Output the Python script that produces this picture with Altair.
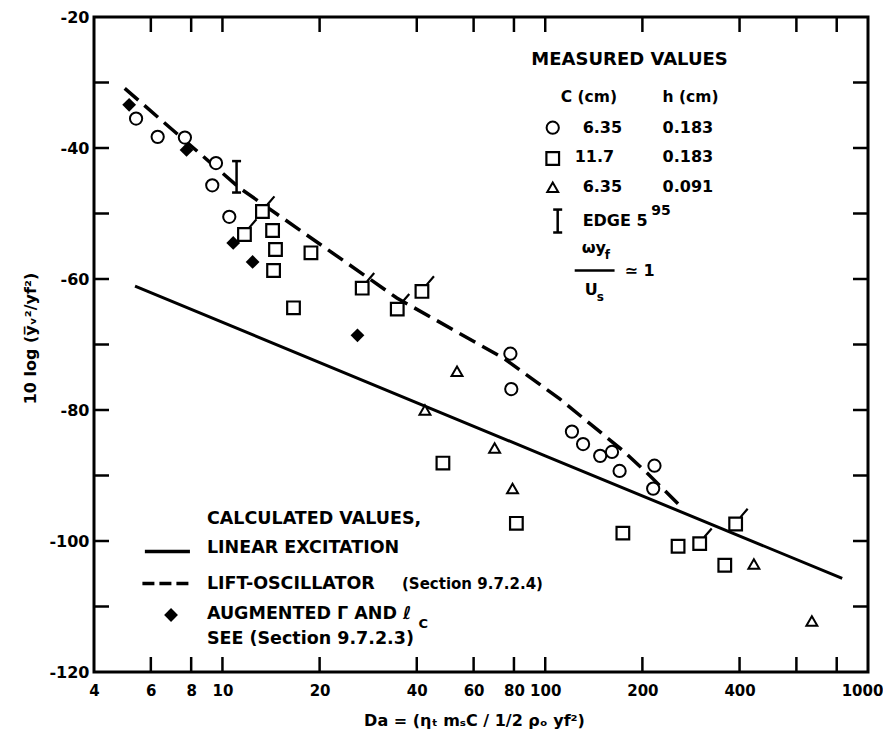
import altair as alt
import pandas as pd

# ---------------- data ----------------
circle_x = [5.4, 6.3, 7.65, 9.55, 9.3, 10.5, 78, 78.5, 121, 131, 148, 161, 170, 218, 216]
circle_y = [-35.5, -38.3, -38.4, -42.3, -45.7, -50.5, -71.4, -76.8, -83.3, -85.2, -87.0, -86.4, -89.3, -88.5, -92.0]

square_x = [14.3, 14.6, 14.4, 18.8, 16.6, 48.2, 81.4, 174, 258, 360]
square_y = [-52.6, -55.5, -58.7, -56.0, -64.4, -88.1, -97.3, -98.8, -100.8, -103.7]

flag_square_x = [13.3, 11.7, 27.1, 34.8, 41.5, 301, 389]
flag_square_y = [-49.7, -53.2, -61.4, -64.6, -61.9, -100.4, -97.4]

triangle_x = [53.3, 42.4, 69.7, 79.2, 443, 670]
triangle_y = [-74.1, -80.0, -85.8, -92.0, -103.5, -112.2]

diamond_x = [5.14, 7.74, 10.8, 12.4, 26.2]
diamond_y = [-33.4, -40.3, -54.5, -57.4, -68.6]

linear_x = [5.36, 100, 832]
linear_y = [-61.1, -87.0, -105.7]

lift_x = [4.98, 11.3, 34.7, 74.9, 110.9, 174, 207.6, 264]
lift_y = [-30.9, -46.1, -62.9, -72.2, -78.3, -86.2, -89.7, -94.8]

edge_x = [11.06]
edge_lo = [-46.8]
edge_hi = [-42.0]

x_label_values = [4, 6, 8, 10, 20, 40, 60, 80, 100, 200, 400, 1000]
x_tick_values = [6, 8, 10, 20, 40, 60, 80, 100, 200, 400, 600, 800]
y_label_values = [-120, -100, -80, -60, -40, -20]
y_tick_values = [-110, -100, -90, -80, -70, -60, -50, -40, -30]

# legend / annotation content (positions in data units)
header_text = ["MEASURED VALUES"]
header_x = [182.5]
header_y = [-26.5]

col_text = ["C (cm)", "h (cm)"]
col_x = [111.7, 231]
col_y = [-32.2, -32.2]

table_text = ["6.35", "0.183", "11.7", "0.183", "6.35", "0.091", "EDGE 5", "\u03c9y", "\u2243 1", "U"]
table_x = [130.6, 231, 123.4, 231, 130.6, 231, 130.6, 129.7, 176, 132.5]
table_y = [-36.9, -36.9, -41.3, -41.3, -45.9, -45.9, -51.2, -55.3, -58.8, -61.7]

sup_text = ["95"]
sup_x = [213]
sup_y = [-49.6]

small_text = ["f", "s"]
small_x = [152.8, 144.4]
small_y = [-56.4, -62.8]

frac_x = [123.4]
frac_x2 = [164]
frac_y = [-58.7]

leg_circle_x, leg_circle_y = [105.5], [-36.9]
leg_square_x, leg_square_y = [105.5], [-41.6]
leg_tri_x, leg_tri_y = [105.5], [-46.0]
leg_edge_x, leg_edge_lo, leg_edge_hi = [109.3], [-52.9], [-49.4]

calc_text = ["CALCULATED VALUES,", "LINEAR EXCITATION", "LIFT-OSCILLATOR", "AUGMENTED \u0393 AND \u2113", "SEE (Section 9.7.2.3)"]
calc_x = [8.95, 8.95, 8.95, 8.95, 8.95]
calc_y = [-96.7, -101.1, -106.5, -111.2, -115.0]

sect_text = ["(Section 9.7.2.4)"]
sect_x = [36.0]
sect_y = [-106.6]

sub_c_text = ["C"]
sub_c_x = [40.5]
sub_c_y = [-112.6]

leg_solid_x, leg_solid_y = [5.75, 7.93], [-101.6, -101.6]
leg_dash_x, leg_dash_y = [5.65, 8.08], [-106.5, -106.5]
leg_diamond_x, leg_diamond_y = [6.93], [-111.3]

# ---------------- chart ----------------
FONT = "DejaVu Sans"
W, H = 774, 655

xs = alt.Scale(type="log", domain=[4, 1000], nice=False)
ys = alt.Scale(domain=[-120, -20], nice=False, zero=False)

x_axis = alt.Axis(values=x_label_values, labelExpr="'' + datum.value", ticks=False, domain=False,
                  grid=False, labelOverlap=False, labelFlush=False, labelPadding=11,
                  labelOffset={"expr": "datum.value == 1000 ? -6 : 0"},
                  labelFont=FONT, labelFontSize=15, labelFontWeight="bold", labelColor="black",
                  title="Da = (\u03b7\u209c m\u209bC / 1/2 \u03c1\u2092 yf\u00b2)",
                  titleFont=FONT, titleFontSize=16, titleFontWeight="bold", titleColor="black",
                  titleX=380, titleY=48, titleAlign="center", titleBaseline="middle")
y_axis = alt.Axis(values=y_label_values, labelExpr="'' + datum.value", ticks=False, domain=False,
                  grid=False, labelPadding=5, labelFont=FONT, labelFontSize=16,
                  labelFontWeight="bold", labelColor="black",
                  title="10 log (y\u0305\u1d65\u00b2/yf\u00b2)",
                  titleFont=FONT, titleFontSize=16, titleFontWeight="bold", titleColor="black",
                  titleX=-64, titleY=321, titleAngle=270, titleAlign="center", titleBaseline="middle")


def df(**cols):
    return pd.DataFrame(cols)


def X(field="x"):
    return alt.X(f"{field}:Q", scale=xs, axis=x_axis)


def Y(field="y"):
    return alt.Y(f"{field}:Q", scale=ys, axis=y_axis)


linear = alt.Chart(df(x=linear_x, y=linear_y)).mark_line(color="black", strokeWidth=3).encode(
    x=X(), y=Y())
lift = alt.Chart(df(x=lift_x, y=lift_y)).mark_line(
    color="black", strokeWidth=3.5, strokeDash=[18, 8]).encode(x=X(), y=Y())

SQUARE = "M-1,-1H1V1H-1Z"
FLAG_SQUARE = "M-1,-1H1V1H-1Z M0.7,-1L1.9,-2.4"

circles = alt.Chart(df(x=circle_x + leg_circle_x, y=circle_y + leg_circle_y)).mark_point(
    shape="circle", size=150, filled=False, fill="white", fillOpacity=1, stroke="black",
    strokeWidth=2).encode(x=X(), y=Y())
squares = alt.Chart(df(x=square_x + leg_square_x, y=square_y + leg_square_y)).mark_point(
    shape=SQUARE, size=160, filled=False, fill="white", fillOpacity=1, stroke="black",
    strokeWidth=2.2).encode(x=X(), y=Y())
flag_squares = alt.Chart(df(x=flag_square_x, y=flag_square_y)).mark_point(
    shape=FLAG_SQUARE, size=160, filled=False, fill="white", fillOpacity=1, stroke="black",
    strokeWidth=2.2).encode(x=X(), y=Y())
triangles = alt.Chart(df(x=triangle_x + leg_tri_x, y=triangle_y + leg_tri_y)).mark_point(
    shape="triangle-up", size=120, filled=False, fill="white", fillOpacity=1, stroke="black",
    strokeWidth=2).encode(x=X(), y=Y())
diamonds = alt.Chart(df(x=diamond_x + leg_diamond_x, y=diamond_y + leg_diamond_y)).mark_point(
    shape="diamond", size=190, filled=True, color="black", opacity=1).encode(x=X(), y=Y())

edge_df = df(x=edge_x + leg_edge_x, lo=edge_lo + leg_edge_lo, hi=edge_hi + leg_edge_hi)
edge_rule = alt.Chart(edge_df).mark_rule(color="black", strokeWidth=2.5).encode(
    x=X(), y=Y("lo"), y2="hi:Q")
edge_cap_lo = alt.Chart(edge_df).mark_tick(orient="horizontal", size=9, thickness=2.5,
                                           color="black", opacity=1).encode(x=X(), y=Y("lo"))
edge_cap_hi = alt.Chart(edge_df).mark_tick(orient="horizontal", size=9, thickness=2.5,
                                           color="black", opacity=1).encode(x=X(), y=Y("hi"))

# inward ticks on all four sides
tick_kw = dict(size=15, thickness=2.5, color="black", opacity=1)
yt = df(v=y_tick_values)
xt = df(v=x_tick_values)
left_ticks = alt.Chart(yt).mark_tick(orient="horizontal", **tick_kw).encode(
    y=Y("v"), x=alt.value(7.5))
right_ticks = alt.Chart(yt).mark_tick(orient="horizontal", **tick_kw).encode(
    y=Y("v"), x=alt.value(W - 7.5))
top_ticks = alt.Chart(xt).mark_tick(orient="vertical", **tick_kw).encode(
    x=X("v"), y=alt.value(7.5))
bottom_ticks = alt.Chart(xt).mark_tick(orient="vertical", **tick_kw).encode(
    x=X("v"), y=alt.value(H - 7.5))


def text_layer(texts, xv, yv, size, align="left", weight="bold"):
    return alt.Chart(df(t=texts, x=xv, y=yv)).mark_text(
        font=FONT, fontSize=size, fontWeight=weight, align=align, baseline="middle",
        color="black").encode(x=X(), y=Y(), text="t:N")


header = text_layer(header_text, header_x, header_y, 18, align="center")
cols = text_layer(col_text, col_x, col_y, 15.5)
table = text_layer(table_text, table_x, table_y, 16)
sup = text_layer(sup_text, sup_x, sup_y, 14)
small = text_layer(small_text, small_x, small_y, 12)
calc = text_layer(calc_text, calc_x, calc_y, 17.5)
sect = text_layer(sect_text, sect_x, sect_y, 15)
subc = text_layer(sub_c_text, sub_c_x, sub_c_y, 13)

frac = alt.Chart(df(x=frac_x, x2=frac_x2, y=frac_y)).mark_rule(color="black", strokeWidth=2.5).encode(
    x=X(), x2="x2:Q", y=Y())

leg_solid = alt.Chart(df(x=leg_solid_x, y=leg_solid_y)).mark_line(color="black", strokeWidth=3.5).encode(
    x=X(), y=Y())
leg_dash = alt.Chart(df(x=leg_dash_x, y=leg_dash_y)).mark_line(
    color="black", strokeWidth=3.5, strokeDash=[12, 5]).encode(x=X(), y=Y())

chart = alt.layer(
    linear, lift, edge_rule, edge_cap_lo, edge_cap_hi,
    circles, squares, flag_squares, triangles, diamonds,
    left_ticks, right_ticks, top_ticks, bottom_ticks,
    header, cols, table, sup, small, calc, sect, subc, frac, leg_solid, leg_dash,
).properties(
    width=W, height=H,
    background="white",
    autosize=alt.AutoSizeParams(type="none"),
    padding={"left": 86, "top": 9, "right": 15, "bottom": 61},
).configure_view(
    stroke="black", strokeWidth=3
)

chart.save("out.html", embed_options={"renderer": "svg", "actions": False})
